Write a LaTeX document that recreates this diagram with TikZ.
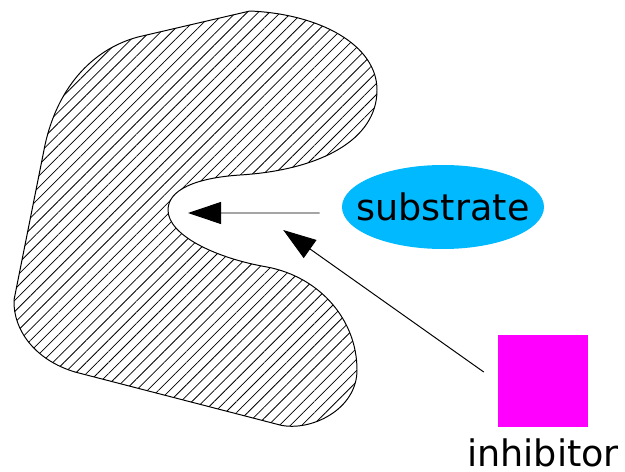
\documentclass[tikz,border=0pt]{standalone}
\usepackage{fontspec}
\setmainfont{DejaVu Sans}
\usetikzlibrary{patterns.meta, arrows.meta, shapes.geometric, positioning}

\definecolor{subblue}{RGB}{0,185,255}
\definecolor{inhpink}{RGB}{255,0,255}
\tikzset{
  pointer/.style = {black, line width = 0.7pt, -{Triangle[length = 0.825cm, width = 0.55cm]}},
  bigtext/.style = {font = \fontsize{26}{30}\selectfont}
}

\begin{document}
\begin{tikzpicture} [scale = 1]
\useasboundingbox (0, 0) rectangle (15.625, 11.775);
\draw[black, line width = 0.7pt, pattern = {Lines[angle = 45, distance = 5.6pt, line width = 0.55pt]}]
  (6.25, 11.5) .. controls (8.0, 11.425) and (9.425, 10.65) .. (9.425, 9.525)
  .. controls (9.425, 8.275) and (8.0, 7.525) .. (6.0, 7.4)
  .. controls (4.875, 7.325) and (4.2, 7.025) .. (4.2, 6.525)
  .. controls (4.2, 5.9) and (5.375, 5.325) .. (6.675, 5.1)
  .. controls (8.0, 4.85) and (8.925, 3.775) .. (8.925, 2.525)
  .. controls (8.925, 1.525) and (7.75, 0.975) .. (7.0, 1.15)
  -- (1.875, 2.475)
  .. controls (0.875, 2.775) and (0.325, 3.525) .. (0.35, 4.275)
  -- (1.125, 8.15)
  .. controls (1.425, 9.525) and (2.25, 10.525) .. (3.45, 10.85)
  -- cycle;
\node[ellipse, fill = subblue, minimum width = 5.05cm, minimum height = 2.1cm, inner xsep = -0.5cm, inner ysep = 0, bigtext] (substrate) at (11.075, 6.6){substrate};
\node[rectangle, fill = inhpink, minimum width = 2.25cm, minimum height = 2.3cm, inner sep = 0] (inhibitor) at (13.575, 2.25){};
\node[below = 0.28cm of inhibitor, inner sep = 0, bigtext] (inhlabel){inhibitor};
\coordinate (site) at (4.7, 6.45);
\coordinate (pocket) at (7.08, 6.025);
\draw[pointer] ([shift = {(-0.55, -0.15)}]substrate.west) -- (site);
\draw[pointer] ([shift = {(-0.35, 0.225)}]inhibitor.west) -- (pocket);
\end{tikzpicture}
\end{document}
